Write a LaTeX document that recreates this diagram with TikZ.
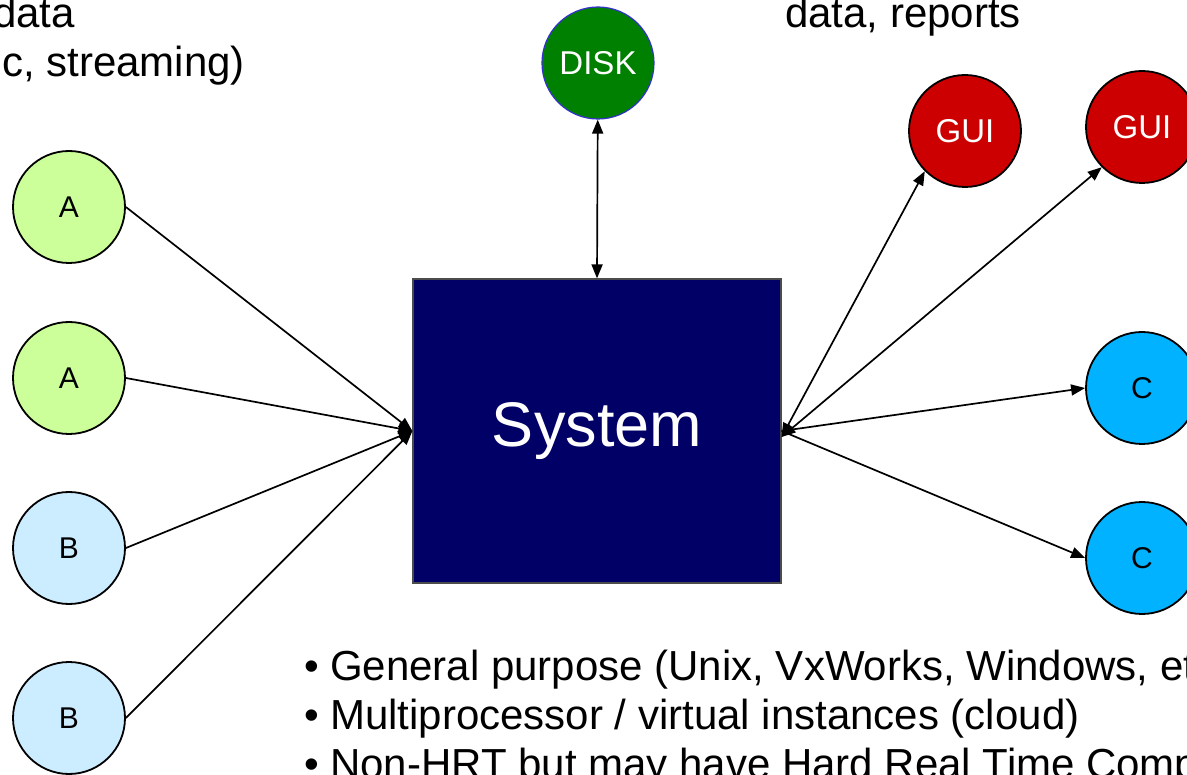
\documentclass[tikz,border=0pt]{standalone}
\usepackage{fontspec}
\setmainfont{Liberation Sans}
\usetikzlibrary{arrows.meta}

\definecolor{inA}{RGB}{204,255,153}
\definecolor{inB}{RGB}{204,236,255}
\definecolor{outC}{RGB}{0,178,255}
\definecolor{guiRed}{RGB}{204,0,0}
\definecolor{diskGreen}{RGB}{0,128,0}
\definecolor{diskEdge}{RGB}{51,51,204}
\definecolor{sysBlue}{RGB}{0,0,102}

\tikzset{
    unit/.style={circle, draw=black, line width=1.8pt, minimum size=112pt, inner sep=0pt,
                 font=\fontsize{30}{32}\selectfont},
    bigunit/.style={unit, text=white, font=\fontsize{33}{36}\selectfont},
    link/.style={line width=1.7pt},
    bigtext/.style={inner sep=0pt, font=\fontsize{42}{50}\selectfont}
}

\begin{document}
\begin{tikzpicture}[x=1pt, y=-1pt, >={Triangle[length=14pt,width=11pt]}]
    \useasboundingbox (0,0) rectangle (1187,775);
    \clip (0,0) rectangle (1187,775);

    % Central system box
    \node[draw=black!70, line width=1.2pt, fill=sysBlue, minimum width=368pt, minimum height=304pt,
          text=white, font=\fontsize{63}{70}\selectfont] (sys) at (597,431) {System};

    % Inputs
    \node[unit, fill=inA] (a1) at (69,207) {A};
    \node[unit, fill=inA] (a2) at (69,378) {A};
    \node[unit, fill=inB] (b1) at (69,548) {B};
    \node[unit, fill=inB] (b2) at (69,718) {B};

    % Disk, GUIs and outputs
    \node[bigunit, fill=diskGreen, draw=diskEdge, line width=1.2pt] (disk) at (598,63) {DISK};
    \node[bigunit, fill=guiRed] (gui1) at (965,131) {GUI};
    \node[bigunit, fill=guiRed] (gui2) at (1142,127) {GUI};
    \node[unit, fill=outC] (c1) at (1142,388) {C};
    \node[unit, fill=outC] (c2) at (1142,558) {C};

    % Connection points on the box
    \coordinate (sysin) at (sys.west);
    \coordinate (sysgui) at ([yshift=-6pt]sys.east);
    \coordinate (sysout) at (sys.east);

    % Connectors
    \draw[->, link] (a1.east) -- (sysin);
    \draw[->, link] (a2.east) -- (sysin);
    \draw[->, link] (b1.east) -- (sysin);
    \draw[->, link] (b2.east) -- (sysin);
    \draw[<->, link] (disk) -- (sys.north);
    \draw[<->, link] (sysgui) -- (gui1.south west);
    \draw[<->, link] (sysgui) -- (gui2.south west);
    \draw[->, link] (sysout) -- (c1.west);
    \draw[->, link] (sysout) -- (c2.west);

    % Cropped captions
    \node[bigtext, anchor=base east] (intop) at (75,28) {data};
    \node[bigtext, anchor=base east] (inbot) at (245,77) {c, streaming)};
    \node[bigtext, anchor=base west] (outtop) at (785,28) {data, reports};

    % Bullet list
    \node[bigtext, anchor=base west] (item1) at (304,680) {\makebox[26pt][l]{\textbullet}General purpose (Unix, VxWorks, Windows, etc.)};
    \node[bigtext, anchor=base west] (item2) at (304,729) {\makebox[26pt][l]{\textbullet}Multiprocessor / virtual instances (cloud)};
    \node[bigtext, anchor=base west] (item3) at (304,778) {\makebox[26pt][l]{\textbullet}Non-HRT but may have Hard Real Time Components};
\end{tikzpicture}
\end{document}
